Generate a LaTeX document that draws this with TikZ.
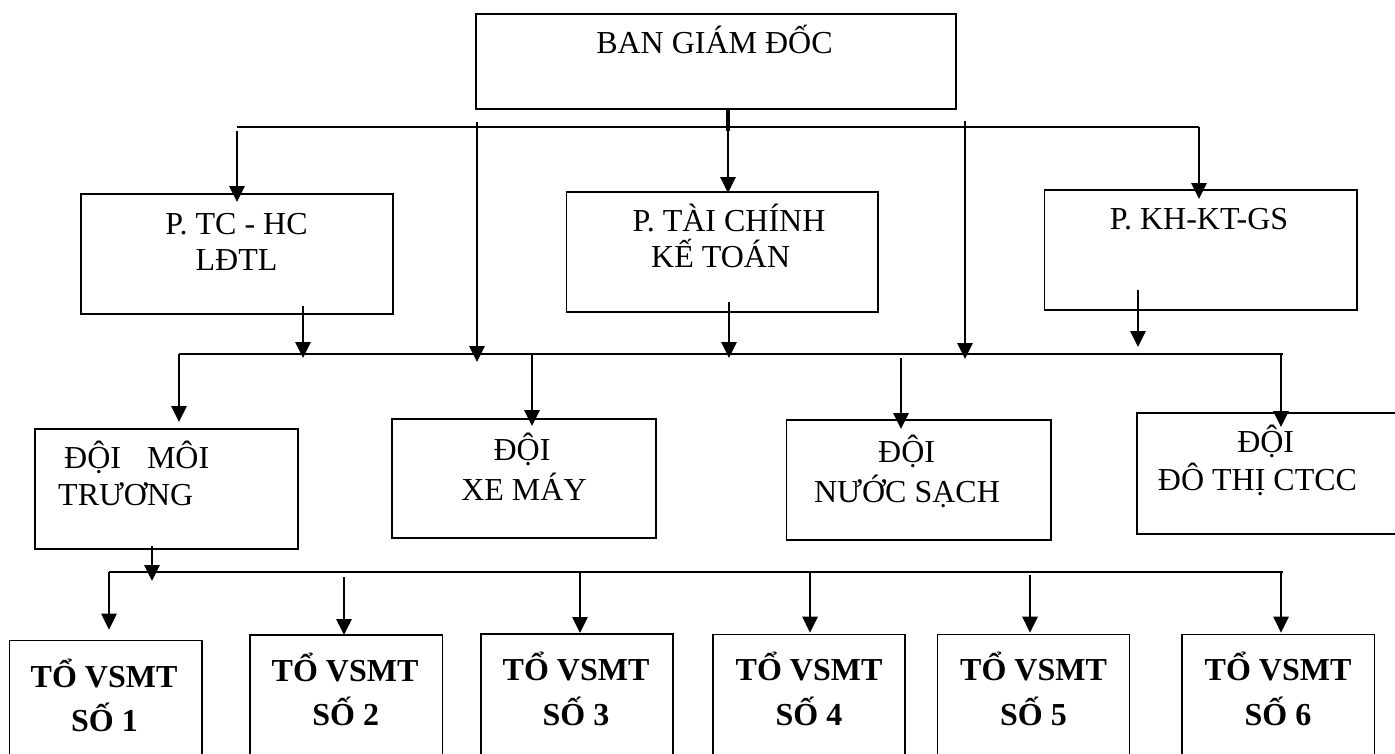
\documentclass[tikz,border=0pt]{standalone}
\usepackage{fontspec}
\setmainfont{Liberation Serif}
\usetikzlibrary{arrows.meta}
\tikzset{
  box/.style={draw, line width=1.5pt, rectangle, inner sep=0pt, outer sep=0pt, anchor=north west},
  conn/.style={line width=2.4pt},
  arr/.style={line width=2.7pt, -{Triangle[length=16pt,width=15pt]}},
  lbl/.style={anchor=base, inner sep=0pt, font=\fontsize{32}{38}\selectfont},
  blbl/.style={anchor=base, inner sep=0pt, font=\fontsize{32}{38}\selectfont\bfseries},
}
\begin{document}
\begin{tikzpicture}[x=1pt,y=-1pt]
\useasboundingbox (0,0) rectangle (1395,753);
\clip (0,0) rectangle (1395,753);

% boxes
\node[box, minimum width=480pt, minimum height=95pt] (bgd) at (476,14) {};
\node[box, minimum width=312pt, minimum height=120pt] (tchc) at (81,194) {};
\node[box, minimum width=311.5pt, minimum height=120pt] (tckt) at (566.5,192) {};
\node[box, minimum width=312.5pt, minimum height=120pt] (kh) at (1044.5,190) {};
\node[box, minimum width=263pt, minimum height=120pt] (mt) at (35,429) {};
\node[box, minimum width=264pt, minimum height=119pt] (xm) at (392,419) {};
\node[box, minimum width=264.5pt, minimum height=120pt] (ns) at (786.5,420) {};
\node[box, minimum width=270pt, minimum height=121pt] (dt) at (1137,413) {};
\node[box, minimum width=192.7pt, minimum height=130pt] (to1) at (9.3,640.7) {};
\node[box, minimum width=192.7pt, minimum height=130pt] (to2) at (250,635) {};
\node[box, minimum width=192pt, minimum height=130pt] (to3) at (481,634) {};
\node[box, minimum width=192pt, minimum height=130pt] (to4) at (713,634.7) {};
\node[box, minimum width=192pt, minimum height=130pt] (to5) at (937.4,634.7) {};
\node[box, minimum width=192.5pt, minimum height=130pt] (to6) at (1182,634.7) {};

% texts
\node[lbl] (l_bgd) at (714.5,53) {BAN GIÁM ĐỐC};
\node[lbl] (l_tchc1) at (236.5,234) {P. TC - HC};
\node[lbl] (l_tchc2) at (236.5,270.7) {LĐTL};
\node[lbl] (l_tckt1) at (729,231.7) {P. TÀI CHÍNH};
\node[lbl] (l_tckt2) at (720.7,267) {KẾ TOÁN};
\node[lbl] (l_kh) at (1199,229) {P. KH-KT-GS};
\node[lbl, anchor=base west] (l_mt1) at (64,468) {ĐỘI\hspace{26pt}MÔI};
\node[lbl, anchor=base west] (l_mt2) at (58,505.7) {TRƯƠNG};
\node[lbl] (l_xm1) at (522,460) {ĐỘI};
\node[lbl] (l_xm2) at (524,500.7) {XE MÁY};
\node[lbl] (l_ns1) at (906.6,462.7) {ĐỘI};
\node[lbl] (l_ns2) at (907,502.7) {NƯỚC SẠCH};
\node[lbl] (l_dt1) at (1265.7,452.7) {ĐỘI};
\node[lbl] (l_dt2) at (1257.5,490) {ĐÔ THỊ CTCC};
\node[blbl] (l_to1a) at (104,687) {TỔ VSMT};
\node[blbl] (l_to1b) at (104.5,731) {SỐ 1};
\node[blbl] (l_to2a) at (345,681.7) {TỔ VSMT};
\node[blbl] (l_to2b) at (345.7,725) {SỐ 2};
\node[blbl] (l_to3a) at (576,680) {TỔ VSMT};
\node[blbl] (l_to3b) at (576,725) {SỐ 3};
\node[blbl] (l_to4a) at (809,680.7) {TỔ VSMT};
\node[blbl] (l_to4b) at (809,725) {SỐ 4};
\node[blbl] (l_to5a) at (1033.5,680.7) {TỔ VSMT};
\node[blbl] (l_to5b) at (1033.5,725) {SỐ 5};
\node[blbl] (l_to6a) at (1278,680.7) {TỔ VSMT};
\node[blbl] (l_to6b) at (1278,725) {SỐ 6};

% bus 1
\coordinate (b1a) at (237,127);
\coordinate (b1b) at (1199,127);
\coordinate (b1c) at (728,127);
\coordinate (s1) at (728,131);
\draw[conn] (b1a) -- (b1b);
\draw[line width=3.6pt] (bgd.south -| s1) -- (s1);
\draw[arr, shorten <=4pt, shorten >=-8pt] (b1a) -- (b1a |- tchc.north);
\draw[arr, shorten >=-1pt] (b1c) -- (b1c |- tckt.north);
\draw[arr, shorten >=-9pt] (b1b) -- (b1b |- kh.north);

% bus 2
\coordinate (b2a) at (179,354);
\coordinate (b2b) at (1283,354);
\coordinate (v1s) at (477,122);
\coordinate (v1e) at (477,354);
\coordinate (v2s) at (965,121);
\coordinate (v2e) at (965,354);
\coordinate (u1) at (303,354);
\coordinate (u2) at (729,354);
\coordinate (u3) at (1138,354);
\coordinate (d2) at (532,354);
\coordinate (d3) at (901,354);
\coordinate (d4) at (1281,354);
\draw[conn] (b2a) -- (b2b);
\draw[arr, shorten >=-8pt] (v1s) -- (v1e);
\draw[arr, shorten >=-5pt] (v2s) -- (v2e);
\draw[arr, shorten <=-8pt, shorten >=-4pt] (tchc.south -| u1) -- (u1);
\draw[arr, shorten <=-10pt, shorten >=-4pt] (tckt.south -| u2) -- (u2);
\draw[arr, shorten <=-20pt, shorten >=7pt] (kh.south -| u3) -- (u3);
\draw[arr, shorten >=7pt] (b2a) -- (b2a |- mt.north);
\draw[arr, shorten >=-7pt] (d2) -- (d2 |- xm.north);
\draw[arr, shorten <=4pt, shorten >=-9pt] (d3) -- (d3 |- ns.north);
\draw[arr, shorten >=-14pt] (d4) -- (d4 |- dt.north);

% bus 3
\coordinate (b3a) at (109,572);
\coordinate (b3b) at (1283,572);
\coordinate (m1) at (152,572);
\coordinate (e2) at (344,572);
\coordinate (e3) at (580,572);
\coordinate (e4) at (810,572);
\coordinate (e5) at (1030,572);
\coordinate (e6) at (1281,572);
\draw[conn] (b3a) -- (b3b);
\draw[arr, shorten <=-3pt, shorten >=-9pt] (mt.south -| m1) -- (m1);
\draw[arr, shorten >=11pt] (b3a) -- (b3a |- to1.north);
\draw[arr, shorten <=5pt] (e2) -- (e2 |- to2.north);
\draw[arr, shorten >=1pt] (e3) -- (e3 |- to3.north);
\draw[arr, shorten >=2pt] (e4) -- (e4 |- to4.north);
\draw[arr, shorten <=3pt, shorten >=2pt] (e5) -- (e5 |- to5.north);
\draw[arr, shorten >=2pt] (e6) -- (e6 |- to6.north);
\end{tikzpicture}
\end{document}
